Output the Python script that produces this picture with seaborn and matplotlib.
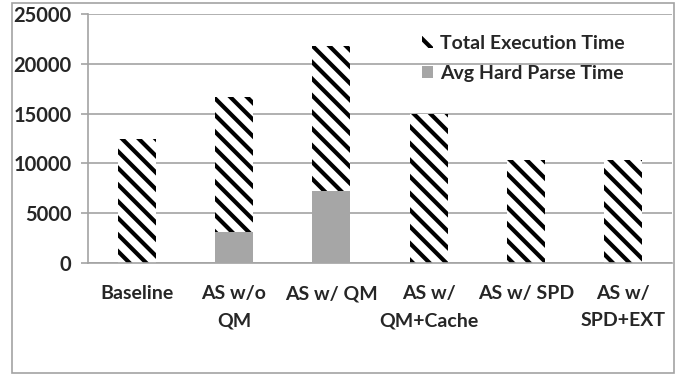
import matplotlib
matplotlib.use("Agg")
import matplotlib.pyplot as plt
from matplotlib.patches import Patch, Rectangle
import seaborn as sns

categories = ["Baseline", "AS w/o\nQM", "AS w/ QM", "AS w/\nQM+Cache", "AS w/ SPD", "AS w/\nSPD+EXT"]
total_exec = [12400, 16700, 21800, 15000, 10300, 10300]
hard_parse = [0, 3100, 7200, 0, 0, 0]
y_ticks = [0, 5000, 10000, 15000, 20000, 25000]

sns.set_style("white")
plt.rcParams["font.family"] = ["Lato", "DejaVu Sans"]
plt.rcParams["font.weight"] = "bold"
plt.rcParams["hatch.linewidth"] = 3.0

GRID = "#a3a3a3"
HATCH = "\\\\"
FONT = {"family": ["Lato", "DejaVu Sans"], "weight": "bold"}

fig = plt.figure(figsize=(6.76, 3.75), dpi=100)
ax = fig.add_axes([88 / 676, (375 - 263) / 375, (672 - 88) / 676, (263 - 14) / 375])

sns.barplot(x=categories, y=total_exec, ax=ax, width=0.39, color="white",
            saturation=1, zorder=2)
n_total = len(ax.patches)
for p in ax.patches:
    p.set_hatch(HATCH)
    p.set_edgecolor("black")
    p.set_facecolor("white")
    p.set_linewidth(0)

sns.barplot(x=categories, y=hard_parse, ax=ax, width=0.39, color="#a6a6a6",
            saturation=1, zorder=3)
for p in ax.patches[n_total:]:
    p.set_linewidth(0)
    p.set_edgecolor("#a6a6a6")

ax.set_ylim(0, 25000)
ax.set_xlim(-0.5, len(categories) - 0.5)
ax.set_yticks(y_ticks)
ax.set_yticklabels([str(v) for v in y_ticks], fontsize=14.5, **FONT)
ax.set_xticks(range(len(categories)))
ax.set_xticklabels(categories, fontsize=14, linespacing=1.7, **FONT)
ax.set_xticks([i - 0.5 for i in range(len(categories) + 1)], minor=True)

ax.yaxis.grid(True, color=GRID, linewidth=1.2, zorder=0)
ax.set_axisbelow(True)
for side in ("top", "right"):
    ax.spines[side].set_visible(False)
for side in ("left", "bottom"):
    ax.spines[side].set_color(GRID)
    ax.spines[side].set_linewidth(1.2)

ax.tick_params(axis="x", which="major", length=0, pad=16)
ax.tick_params(axis="x", which="minor", length=6, width=1.2, color=GRID, direction="out")
ax.tick_params(axis="y", length=5, width=1.2, color=GRID, direction="out", pad=7, left=True)
ax.set_xlabel("")
ax.set_ylabel("")

handles = [
    Patch(facecolor="white", edgecolor="black", linewidth=0, hatch=HATCH, label="Total Execution Time"),
    Patch(facecolor="#a6a6a6", edgecolor="#a6a6a6", linewidth=0, label="Avg Hard Parse Time"),
]
ax.legend(handles=handles, loc="upper left", bbox_to_anchor=(0.558, 0.947), frameon=False,
          prop={**FONT, "size": 14}, borderaxespad=0,
          handlelength=0.6, handleheight=0.6, handletextpad=0.35, labelspacing=0.65)

fig.patches.append(Rectangle((11.5 / 676, 2 / 375), (674 - 11.5) / 676, (373 - 2.5) / 375,
                             transform=fig.transFigure, fill=False, edgecolor=GRID,
                             linewidth=1.2, zorder=-1))

fig.savefig("out.png", dpi=100)
